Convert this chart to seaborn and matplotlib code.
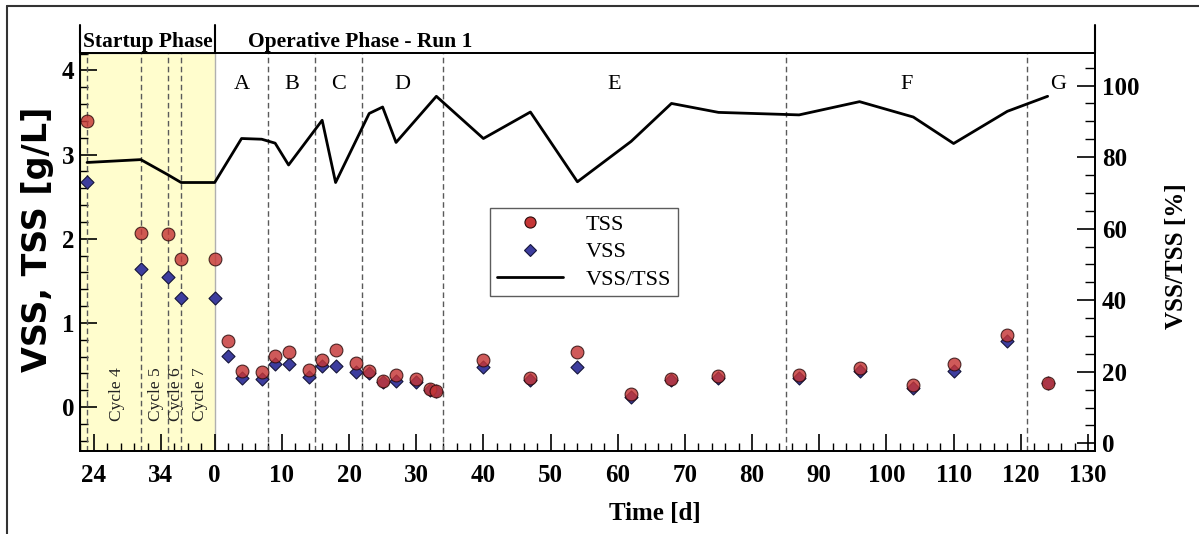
import matplotlib
matplotlib.use("Agg")
import matplotlib.pyplot as plt
from matplotlib.lines import Line2D
from matplotlib.ticker import FixedLocator, MultipleLocator
import seaborn as sns
import pandas as pd

# Time axis: startup days are shifted so that Run 1 starts at day 0
time = [-19, -11, -7, -5, 0,
        2, 4, 7, 9, 11, 14, 16, 18, 21, 23, 25, 27, 30, 32, 33,
        40, 47, 54, 62, 68, 75, 87, 96, 104, 110, 118, 124]
tss = [3.40, 2.07, 2.06, 1.76, 1.76,
       0.78, 0.43, 0.42, 0.61, 0.65, 0.44, 0.56, 0.68, 0.52, 0.43, 0.31, 0.38, 0.33, 0.21, 0.19,
       0.56, 0.35, 0.65, 0.155, 0.33, 0.37, 0.38, 0.46, 0.26, 0.51, 0.86, 0.29]
vss = [2.67, 1.64, 1.55, 1.30, 1.30,
       0.61, 0.34, 0.33, 0.51, 0.51, 0.36, 0.49, 0.49, 0.42, 0.41, 0.30, 0.31, 0.30, 0.20, 0.19,
       0.47, 0.32, 0.47, 0.12, 0.32, 0.34, 0.35, 0.43, 0.23, 0.43, 0.79, 0.28]

ratio_time = [-19, -11, -7, -5, 0, 4, 7, 9, 11, 16, 18, 23, 25, 27, 33,
              40, 47, 54, 62, 68, 75, 87, 96, 104, 110, 118, 124]
ratio = [78.5, 79.3, 75.1, 72.9, 72.9, 85.2, 85.0, 83.9, 77.8, 90.3, 72.9, 92.2, 94.0, 84.1, 97.0,
         85.2, 92.6, 73.1, 84.4, 95.0, 92.5, 91.8, 95.5, 91.2, 83.8, 92.8, 97.0]

tick_pos = [-18, -8, 0, 10, 20, 30, 40, 50, 60, 70, 80, 90, 100, 110, 120, 130]
tick_labels = ["24", "34", "0", "10", "20", "30", "40", "50", "60", "70", "80",
               "90", "100", "110", "120", "130"]

cycle_bounds = [-19, -11, -7, -5]
cycle_names = ["Cycle 4", "Cycle 5", "Cycle 6", "Cycle 7"]
cycle_label_x = [-14.6, -8.8, -5.7, -2.2]

period_bounds = [8, 15, 22, 34, 85, 121]
period_names = ["A", "B", "C", "D", "E", "F", "G"]
period_label_x = [4, 11.5, 18.5, 28, 59.5, 103, 125.5]

solids = pd.DataFrame({"time": time, "TSS": tss, "VSS": vss})
ratio_df = pd.DataFrame({"time": ratio_time, "ratio": ratio})

sns.set_theme(style="ticks")
plt.rcParams["font.family"] = ["Liberation Serif", "DejaVu Serif"]
plt.rcParams["axes.linewidth"] = 1.3
for key in ("text.color", "axes.labelcolor", "xtick.color", "ytick.color", "axes.edgecolor"):
    plt.rcParams[key] = "black"

W, H = 1199, 534
fig = plt.figure(figsize=(W / 100, H / 100), dpi=100)
x0, x1, yb, yt = 80, 1095, 451, 53
ax = fig.add_axes([x0 / W, 1 - yb / H, (x1 - x0) / W, (yb - yt) / H])
ax2 = ax.twinx()

xmin, xmax = -20.05, 131.05
ax.set_xlim(xmin, xmax)
ax.set_ylim(-0.522, 4.206)
ax2.set_ylim(-2.15, 109.1)

# startup phase shading
ax.axvspan(xmin, 0, facecolor="#fffdcd", edgecolor="#b0b0b0", linewidth=1.0, zorder=0)

# cycle and period boundaries
dash = (0, (4, 2.5))
for b in cycle_bounds + period_bounds:
    ax.axvline(b, color="#5a5a5a", lw=1.0, linestyle=dash, zorder=1)

sns.scatterplot(data=solids, x="time", y="VSS", marker="D", s=44, color="#3d3d9e",
                edgecolor="#15153a", linewidth=0.8, ax=ax, zorder=3, legend=False)
sns.scatterplot(data=solids, x="time", y="TSS", marker="o", s=85, color="#c53636",
                alpha=0.82, edgecolor="#2a0a0a", linewidth=0.8, ax=ax, zorder=4, legend=False)
sns.lineplot(data=ratio_df, x="time", y="ratio", color="black", lw=2.0, ax=ax2,
             estimator=None, sort=False, legend=False)

# ticks
ax.xaxis.set_major_locator(FixedLocator(tick_pos))
ax.set_xticklabels(tick_labels)
ax.xaxis.set_minor_locator(MultipleLocator(2))
ax.yaxis.set_major_locator(MultipleLocator(1))
ax.yaxis.set_minor_locator(MultipleLocator(0.2))
ax2.yaxis.set_major_locator(MultipleLocator(20))
ax2.yaxis.set_minor_locator(MultipleLocator(5))

ax.tick_params(axis="both", which="major", direction="in", length=12, width=1.2,
               colors="black", labelsize=18)
ax.tick_params(axis="both", which="minor", direction="in", length=6, width=1.0, colors="black")
ax.tick_params(axis="x", pad=9)
ax.tick_params(axis="y", pad=4)
ax2.tick_params(axis="y", which="major", direction="in", length=13, width=1.2, labelsize=18,
                pad=5, colors="black")
ax2.tick_params(axis="y", which="minor", direction="in", length=7, width=1.0, colors="black")
for lab in ax.get_xticklabels() + ax.get_yticklabels() + ax2.get_yticklabels():
    lab.set_fontweight("bold")
    lab.set_fontfamily("Liberation Serif")

# axis labels
ax.set_xlabel("Time [d]", fontsize=18, fontweight="bold", family="Liberation Serif")
ax.xaxis.set_label_coords(0.5665, -0.156)
ax.xaxis.label.set_verticalalignment("center")
ax.set_ylabel("VSS, TSS [g/L]", fontsize=24, fontweight="bold", family="DejaVu Sans")
ax.yaxis.set_label_coords(-0.042, 0.533)
ax.yaxis.label.set_verticalalignment("center")
ax2.set_ylabel("VSS/TSS [%]", fontsize=18, fontweight="bold", family="Liberation Serif")
ax2.yaxis.set_label_coords(1.08, 0.49)
ax2.yaxis.label.set_verticalalignment("center")
ax2.yaxis.label.set_rotation(90)

for a in (ax, ax2):
    for s in a.spines.values():
        s.set_linewidth(1.3)
        s.set_color("black")

# header band above the plotting area
head = 28 / (yb - yt)
xtr = ax.get_xaxis_transform()
for xv in (xmin, 0, xmax):
    ax.add_line(Line2D([xv, xv], [1, 1 + head], transform=xtr, color="black",
                       lw=1.5, clip_on=False))
ax.text(-10, 1 + 11 / (yb - yt), "Startup Phase", transform=xtr, ha="center", va="center",
        fontsize=15.5, fontweight="bold")
ax.text(4.9, 1 + 11 / (yb - yt), "Operative Phase - Run 1", transform=xtr, ha="left",
        va="center", fontsize=15.5, fontweight="bold")

for xv, name in zip(period_label_x, period_names):
    ax.text(xv, 0.92, name, transform=xtr, ha="center", va="center", fontsize=16)

for xv, name in zip(cycle_label_x, cycle_names):
    ax.text(xv, 0.15, name, ha="center", va="center", rotation=90, fontsize=12.5,
            color="#222222")

# legend
handles = [
    Line2D([], [], marker="o", ls="none", markersize=8, markerfacecolor="#c53636",
           markeredgecolor="#2a0a0a", markeredgewidth=0.8),
    Line2D([], [], marker="D", ls="none", markersize=6, markerfacecolor="#3d3d9e",
           markeredgecolor="#15153a", markeredgewidth=0.8),
    Line2D([], [], color="black", lw=2.0),
]
leg = ax2.legend(handles, ["TSS", "VSS", "VSS/TSS"], loc="upper left",
                 bbox_to_anchor=(490 / W, 1 - 208 / H), bbox_transform=fig.transFigure,
                 frameon=True, fancybox=False, borderaxespad=0, borderpad=0.3,
                 handlelength=3.0, handletextpad=1.0, labelspacing=0.3,
                 prop=dict(family="Liberation Serif", size=16))
leg.get_frame().set_edgecolor("#333333")
leg.get_frame().set_linewidth(1.0)

# outer frame lines
fig.add_artist(Line2D([7 / W, 1], [1 - 6 / H, 1 - 6 / H], transform=fig.transFigure,
                      color="#333333", lw=1.5))
fig.add_artist(Line2D([7 / W, 7 / W], [0, 1 - 6 / H], transform=fig.transFigure,
                      color="#333333", lw=1.5))

fig.savefig("out.png", dpi=100)
